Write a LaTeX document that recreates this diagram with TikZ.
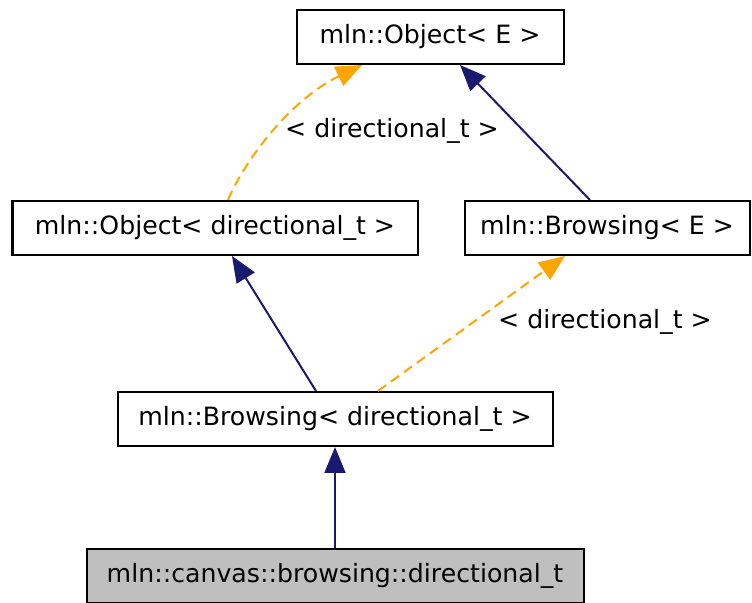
\documentclass[tikz,border=0pt]{standalone}
\usepackage{fontspec}
\setmainfont{DejaVu Sans}
\usetikzlibrary{arrows.meta}
\definecolor{navyline}{HTML}{191970}
\definecolor{orangeline}{HTML}{FFA500}
\definecolor{leafgray}{HTML}{BFBFBF}
\begin{document}
\begin{tikzpicture}[
		x=0.5pt, y=-0.5pt,
		every node/.style={font=\fontsize{12.6}{15}\selectfont},
		cls/.style={draw, line width=1pt, minimum height=27pt, inner sep=0pt, align=center},
		leaf/.style={cls, fill=leafgray},
		inherit/.style={draw=navyline, line width=1pt, -{Triangle[length=13pt,width=10.5pt]}},
		templ/.style={draw=orangeline, line width=1pt, dash pattern=on 5pt off 3pt, -{Triangle[length=13pt,width=10.5pt]}}
		]
		\useasboundingbox (0,0) rectangle (752,603);
		
		% Draw Classes
		\node[cls, minimum width=133.5pt] (objE) at (430, 37) {mln::Object< E >};
		\node[cls, minimum width=202.5pt] (objdir) at (215, 228) {mln::Object< directional\_t >};
		\node[cls, minimum width=142.5pt] (brwE) at (607, 228) {mln::Browsing< E >};
		\node[cls, minimum width=217.5pt] (brwdir) at (335, 419) {mln::Browsing< directional\_t >};
		\node[leaf, minimum width=248.5pt] (leafdir) at (335, 576) {mln::canvas::browsing::directional\_t};
		
		% Draw Inheritance Arrows
		\draw[inherit] ([xshift=-8.5pt]brwE.north) -- ([xshift=15pt]objE.south);
		\draw[inherit] ([xshift=-9.5pt]brwdir.north) -- ([xshift=8.5pt]objdir.south);
		\draw[inherit] (leafdir.north) -- (brwdir.south);
		
		% Draw Template Arrows
		\draw[templ] ([xshift=6.5pt]objdir.north) .. controls (245, 160) and (290, 100) .. ([xshift=-34pt]objE.south);
		\draw[templ] ([xshift=21.5pt]brwdir.north) -- ([xshift=-21pt]brwE.south);
		
		% Add Template Labels
		\node (lblobj) at (392, 131) {< directional\_t >};
		\node (lblbrw) at (605, 322) {< directional\_t >};
		
	\end{tikzpicture}
\end{document}
